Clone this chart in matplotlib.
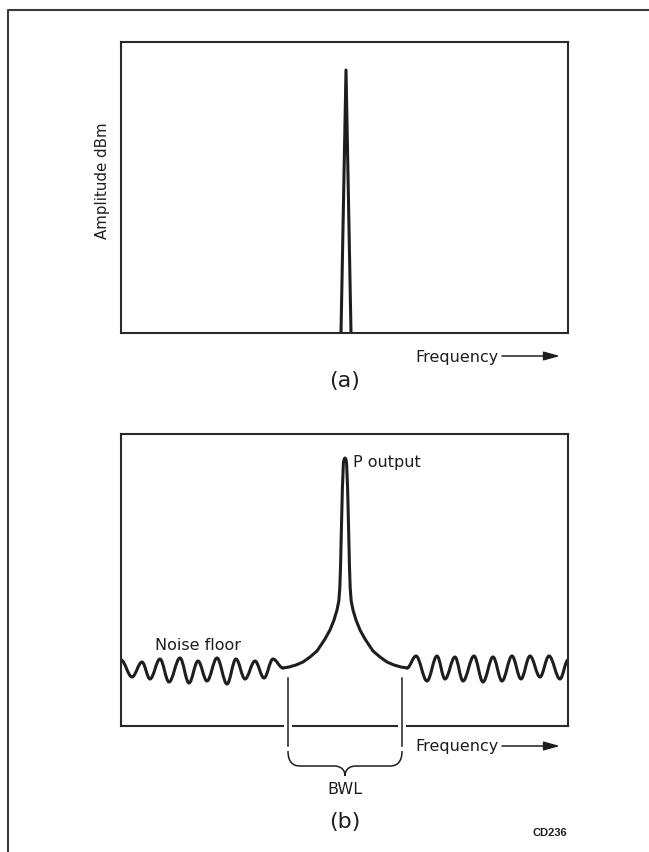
import matplotlib
matplotlib.use("Agg")
import matplotlib.pyplot as plt
from matplotlib.path import Path
from matplotlib.patches import PathPatch
import numpy as np

# ---------------- data (arbitrary frequency / amplitude units) ----------------
# panel (a): single narrow spectral line
a_freq = [220, 225, 230]
a_amp = [0, 263, 0]

# panel (b): noise floor extrema, left of the carrier
noise_left_f = [0, 11, 21, 29, 39, 48, 59, 68, 77, 86, 96, 106, 115, 124, 134, 143, 152, 162]
noise_left_a = [66, 49, 64, 47, 67, 44, 68, 43, 65, 45, 68, 42, 67, 47, 65, 48, 67, 58]
# noise floor extrema, right of the carrier
noise_right_f = [286, 295, 306, 316, 324, 334, 342, 353, 362, 372, 381, 391, 400, 409, 419, 428, 439, 447]
noise_right_a = [58, 70, 45, 70, 47, 69, 45, 70, 44, 69, 45, 70, 47, 70, 49, 70, 47, 66]
# carrier skirt: half-width offset vs height above the floor
carrier_f0 = 224
carrier_floor = 58
skirt_df = [62, 56, 49, 42, 35, 28, 20, 15, 11, 8, 6.2, 5.2, 4.5, 3.6, 2.6, 1.6, 0.8, 0]
skirt_h = [0, 1, 3, 6, 11, 17, 29, 38, 48, 58, 67, 80, 100, 139, 180, 205, 209, 210]

INK = "#1e1e1e"
W, H = 649, 853
fig = plt.figure(figsize=(W / 100, H / 100), dpi=100)
fig.patch.set_facecolor("white")


def px_axes(x0, y0, x1, y1):
    return fig.add_axes([x0 / W, (H - y1) / H, (x1 - x0) / W, (y1 - y0) / H])


def style(ax):
    ax.set_xticks([])
    ax.set_yticks([])
    for s in ax.spines.values():
        s.set_linewidth(1.5)
        s.set_color("#2a2a2a")


# panel (a)
axa = px_axes(121, 43, 568, 334)
axa.set_xlim(0, 447)
axa.set_ylim(0, 291)
style(axa)
axa.plot(a_freq, a_amp, color=INK, lw=2.2, solid_joinstyle="round", solid_capstyle="butt")

# panel (b)
axb = px_axes(121, 435, 568, 727)
axb.set_xlim(0, 447)
axb.set_ylim(0, 292)
style(axb)


def wave_path(xs, ys, k=0.36):
    verts = [(xs[0], ys[0])]
    codes = [Path.MOVETO]
    for i in range(len(xs) - 1):
        x0, y0, x1, y1 = xs[i], ys[i], xs[i + 1], ys[i + 1]
        d = x1 - x0
        verts += [(x0 + k * d, y0), (x1 - k * d, y1), (x1, y1)]
        codes += [Path.CURVE4] * 3
    return Path(verts, codes)


for xs, ys in [(noise_left_f, noise_left_a), (noise_right_f, noise_right_a)]:
    axb.add_patch(PathPatch(wave_path(xs, ys), fill=False, ec=INK, lw=2.2,
                            capstyle="round", joinstyle="round"))

df = np.array(skirt_df, float)
hh = np.array(skirt_h, float)
cx = np.concatenate([carrier_f0 - df, carrier_f0 + df[::-1]])
cy = np.concatenate([carrier_floor + hh, carrier_floor + hh[::-1]])
axb.plot(cx, cy, color=INK, lw=2.2, solid_joinstyle="round", solid_capstyle="round")

# ---------------- overlay for annotations (pixel coords) ----------------
ov = fig.add_axes([0, 0, 1, 1])
ov.set_xlim(0, W)
ov.set_ylim(H, 0)
ov.axis("off")
ov.patch.set_alpha(0)

# outer frame (left and top edges)
ov.plot([8, 8, W + 5], [H + 5, 11, 11], color="#3a3a3a", lw=1.5, clip_on=False)

font = "DejaVu Sans"
ov.text(103, 181, "Amplitude dBm", rotation=90, ha="center", va="center",
        fontsize=10.8, family=font, color=INK)

for y in (357, 747):
    ov.text(415, y, "Frequency", ha="left", va="center", fontsize=11.5,
            family=font, color=INK)
    ov.annotate("", xy=(560, y), xytext=(502, y),
                arrowprops=dict(arrowstyle="-|>,head_length=0.65,head_width=0.18",
                                lw=1.1, color=INK, shrinkA=0, shrinkB=0,
                                mutation_scale=15))

ov.text(345, 381, "(a)", ha="center", va="center", fontsize=16, family=font, color=INK)
ov.text(345, 822, "(b)", ha="center", va="center", fontsize=16, family=font, color=INK)

ov.text(353, 463, "P output", ha="left", va="center", fontsize=11.5, family=font, color=INK)
ov.text(155, 646, "Noise floor", ha="left", va="center", fontsize=11.5, family=font, color=INK)

# BWL markers: gaps in the axis line, then vertical lines
for x in (288, 402):
    ov.plot([x - 4, x + 4], [727, 727], color="white", lw=3, solid_capstyle="butt")
    ov.plot([x, x], [679, 747], color=INK, lw=1.1)

brace = Path(
    [(288, 752), (288, 762), (292, 767), (300, 767),
     (334, 767),
     (340, 767), (345, 770), (345, 777),
     (345, 770), (350, 767), (356, 767),
     (390, 767),
     (398, 767), (402, 762), (402, 752)],
    [Path.MOVETO, Path.CURVE4, Path.CURVE4, Path.CURVE4,
     Path.LINETO,
     Path.CURVE4, Path.CURVE4, Path.CURVE4,
     Path.CURVE4, Path.CURVE4, Path.CURVE4,
     Path.LINETO,
     Path.CURVE4, Path.CURVE4, Path.CURVE4])
ov.add_patch(PathPatch(brace, fill=False, ec=INK, lw=1.1))
ov.text(345, 790, "BWL", ha="center", va="center", fontsize=11.5, family=font, color=INK)

ov.text(567, 833, "CD236", ha="right", va="center", fontsize=8, fontweight="bold",
        family=["Liberation Sans", "DejaVu Sans"], color=INK)

fig.savefig("out.png", dpi=100, facecolor="white")
